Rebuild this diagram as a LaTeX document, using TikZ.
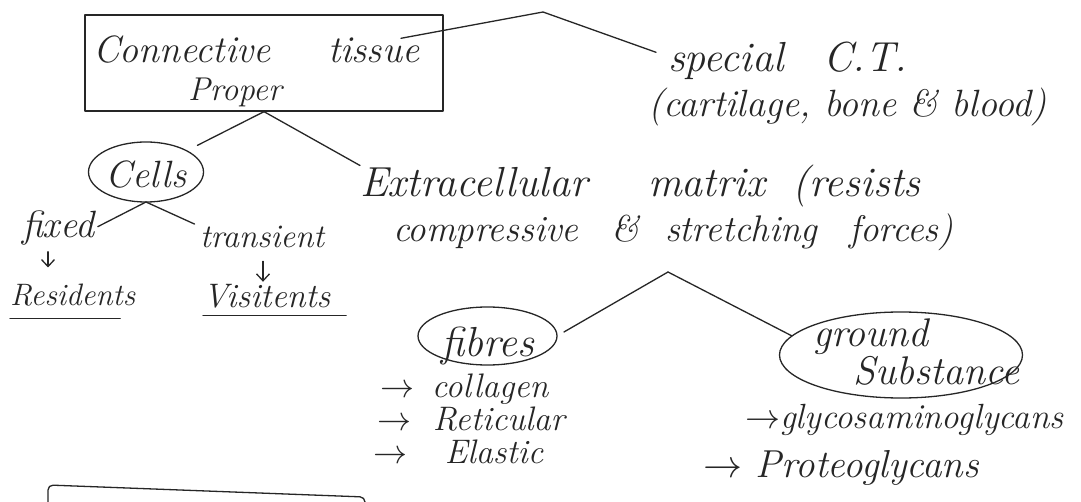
\RequirePackage{fix-cm}
\documentclass[tikz,border=0pt]{standalone}
\usepackage{fontspec}
\usetikzlibrary{arrows.meta,shapes.geometric,calc}
\definecolor{ink}{HTML}{262626}
\begin{document}
\begin{tikzpicture}[x=1pt,y=-1pt,
  hw/.style={inner sep=0pt, outer sep=0pt, text=ink, font=\fontsize{#1}{#1}\selectfont\itshape},
  hw/.default=38pt,
  spaced/.style={font=\fontsize{34pt}{34pt}\selectfont\itshape\addfontfeatures{LetterSpace=#1}},
  pen/.style={draw=ink, line width=1.3pt, line cap=round, line join=round},
  oval/.style={ellipse, pen, inner sep=0pt},
  darrow/.style={pen, -{Straight Barb[length=7pt,width=13pt]}}]
\useasboundingbox (0,0) rectangle (1081,502);
\fill[white] (0,0) rectangle (1081,502);

% main box
\node[pen, rectangle, minimum width=358pt, minimum height=96pt, inner sep=0pt] (box) at (264,63) {};
\node[hw=38pt, anchor=base west] (conn) at (93,63) {Connective};
\node[hw=38pt, anchor=base west] (tissue) at (328,63) {tissue};
\node[hw=33pt, anchor=base west] (proper) at (188,101) {Proper};

% special connective tissue
\node[hw=42pt, anchor=base west] (special) at (668,72) {special\ \hspace{25pt}C.T.};
\node[hw=38pt, anchor=base west] (cart) at (648,117) {(cartilage, bone \& blood)};
\coordinate (peak) at (543,12);
\draw[pen] ($(tissue.north)!0.6!(tissue.north east)$) -- (peak) -- ($(special.west)+(-12,-9)$);

% cells branch
\node[oval, hw=38pt, text height=32pt, text depth=0pt, minimum width=115pt, minimum height=60pt] (cells) at (146,172) {Cells};
\draw[pen, shorten >=12pt] (box.south) -- (cells.north east);
\node[hw=38pt, anchor=base west] (fixed) at (22,238) {fixed};
\node[hw=33pt, anchor=base west] (trans) at (200,248) {transient};
\draw[pen, shorten >=4pt] (cells.south) -- (fixed.east);
\draw[pen, shorten >=6pt] (cells.south) -- (trans.north west);
\node[hw=31pt, anchor=base west] (res) at (10,306) {Residents};
\node[hw=34pt, anchor=base west] (vis) at (203,308) {Visitents};
\coordinate (fa) at ($(fixed.south west)+(26,0)$);
\coordinate (ta) at ($(trans.south west)+(63,0)$);
\draw[darrow, shorten <=6pt, shorten >=17pt] (fa) -- (fa |- res.north);
\draw[darrow, shorten <=13pt, shorten >=3pt] (ta) -- (ta |- vis.north);
\draw[pen] ($(res.south west)+(0,12)$) -- ($(res.south east)+(-15,12)$);
\draw[pen] ($(vis.south west)+(0,7)$) -- ($(vis.south east)+(16,7)$);

% extracellular matrix branch
\node[hw=42pt, anchor=base west] (ecm1) at (360,197) {Extracellular\ \hspace{46pt}matrix\ \hspace{13pt}(resists};
\node[hw=37pt, anchor=base west] (ecm2) at (393,242) {compressive\ \hspace{20pt}\&\ \hspace{13pt}stretching\ \hspace{19pt}forces)};
\draw[pen] (box.south) -- (ecm1.north west);
\coordinate (apex) at (668,272);

\node[oval, hw=42pt, text height=40pt, text depth=0pt, minimum width=139pt, minimum height=58pt] (fibres) at (487.5,336) {fibres};
\node[oval, minimum width=243pt, minimum height=86pt] (ground) at (901,355) {};
\node[hw=40pt, font=\fontsize{40pt}{36pt}\selectfont\itshape, align=left, anchor=north west] (gs) at (813,319) {ground\\\hspace*{40pt}Substance};
\draw[pen, shorten >=8pt] (apex) -- (fibres.east);
\draw[pen] (apex) -- (ground.170);

\node[hw=34pt, spaced=7.2, anchor=base west] (col) at (380,397) {$\rightarrow$\ \hspace{6pt}collagen};
\node[hw=34pt, anchor=base west] (ret) at (377,430) {$\rightarrow$\ \hspace{10pt}Reticular};
\node[hw=34pt, spaced=6.7, anchor=base west] (ela) at (373,463) {$\rightarrow$\ \hspace{26pt}Elastic};
\node[hw=35pt, anchor=base west] (gly) at (745,428) {$\rightarrow$glycosaminoglycans};
\node[hw=39pt, anchor=base west] (pro) at (703,477) {$\rightarrow$ Proteoglycans};

% partial box at the bottom edge
\begin{scope}
\clip (0,0) rectangle (1081,502);
\draw[pen, rounded corners=5pt] (48,508) -- (48,485) -- (365,497) -- (365,508);
\end{scope}
\end{tikzpicture}
\end{document}
